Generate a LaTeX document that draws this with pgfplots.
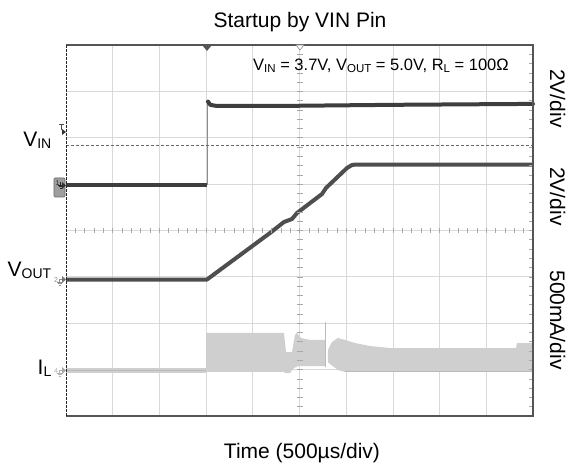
\documentclass[border=0pt]{standalone}
\usepackage{pgfplots}
\pgfplotsset{compat=1.18}
\usepackage{fontspec}
\setmainfont{Liberation Sans}
\definecolor{gridc}{HTML}{D9D9D9}
\definecolor{framec}{HTML}{555555}
\definecolor{vinc}{HTML}{3E3E3E}
\definecolor{voutc}{HTML}{4E4E4E}
\definecolor{ilc}{HTML}{CFCFCF}
\definecolor{ilbase}{HTML}{BABABA}
\definecolor{tickc}{HTML}{A8A8A8}
\newcommand{\bigsub}[2]{#1\raisebox{-1.5bp}{\fontsize{14bp}{14bp}\selectfont #2}}
\newcommand{\smsub}[2]{#1\raisebox{-1.5bp}{\fontsize{11.5bp}{12bp}\selectfont #2}}
\newcommand{\gnd}[3]{% x, y (top of symbol), color
  \draw[#3, line width=0.5bp] (#1bp,#2bp) -- ++(0,-3bp);
  \draw[#3, line width=0.5bp] (#1bp-3bp,#2bp-3bp) -- ++(6bp,0);
  \draw[#3, line width=0.5bp] (#1bp-2bp,#2bp-4.5bp) -- ++(4bp,0);
  \draw[#3, line width=0.5bp] (#1bp-1bp,#2bp-6bp) -- ++(2bp,0);}
\begin{document}
\begin{tikzpicture}
\path[use as bounding box] (0,0) rectangle (570bp,465bp);
\begin{axis}[
  at={(66bp,49bp)}, anchor=south west,
  scale only axis, width=467bp, height=371bp,
  xmin=0, xmax=10, ymin=0, ymax=8,
  xtick={1,2,3,4,5,6,7,8,9}, ytick={1,2,3,4,5,6,7},
  xticklabels={}, yticklabels={},
  major tick length=0pt,
  grid=major, grid style={gridc, line width=0.8bp},
  axis line style={draw=none},
  clip=false,
]
% I_L baseline before start
\addplot[ilc, line width=5bp] coordinates {(0,0.982) (3.0,0.982)};
\addplot[ilbase, line width=1.8bp] coordinates {(0,0.982) (3.0,0.982)};
% I_L band part A
\addplot[fill=ilc, draw=none] coordinates {
 (3.0,1.790) (4.668,1.790) (4.711,1.380) (4.839,1.380) (4.904,1.747) (4.946,1.790)
 (5.032,1.682) (5.225,1.639) (5.546,1.639)
 (5.546,1.078) (4.968,1.078) (4.882,1.035) (4.797,0.927) (4.690,0.927) (4.668,0.949) (3.0,0.949)} -- cycle;
% spike
\addplot[ilbase, line width=0.9bp] coordinates {(5.557,2.027) (5.557,1.057)};
% I_L band part B
\addplot[fill=ilc, draw=none] coordinates {
 (5.610,1.423) (5.696,1.596) (5.824,1.682) (5.974,1.639) (6.188,1.574) (6.510,1.509)
 (6.938,1.466) (9.636,1.466) (9.657,1.574) (10,1.574)
 (10,0.949) (5.974,0.949) (5.824,0.992) (5.653,1.121) (5.610,1.164)} -- cycle;
\addplot[ilbase, line width=1.5bp] coordinates {(5.974,0.955) (10,0.955)};
% V_OUT
\addplot[voutc, line width=4bp, line join=round] coordinates {
 (0,2.943) (3.019,2.943) (4.368,3.946) (4.668,4.183) (4.839,4.248) (4.946,4.377)
 (5.482,4.787) (5.567,4.916) (6.017,5.348) (6.124,5.412) (6.21,5.423) (10,5.423)};
% V_IN
\addplot[vinc, line width=4bp] coordinates {(0,4.975) (3.015,4.975)};
\addplot[black!45, line width=0.8bp] coordinates {(3.02,4.975) (3.02,6.82)};
\addplot[vinc, line width=4bp, line join=round, line cap=round] coordinates {
 (3.04,6.78) (3.09,6.71) (3.2,6.69) (5,6.69) (7,6.71) (10,6.73)};
% dashed reference (trigger level)
\addplot[black!60, line width=0.7bp, dash pattern=on 3bp off 2bp] coordinates {(0,5.844) (10,5.844)};
\end{axis}
% centre-line minor ticks
\foreach \k in {1,...,49} {
  \draw[tickc, line width=0.6bp] (66bp+\k*9.34bp,232bp) -- ++(0,5bp);
}
\foreach \k in {1,...,39} {
  \draw[tickc, line width=0.6bp] (296.5bp,49bp+\k*9.275bp) -- ++(6bp,0);
  \draw[tickc, line width=0.6bp] (533bp,49bp+\k*9.275bp) -- ++(-4bp,0);
}
% frame
\draw[framec, line width=1.2bp] (66bp,420bp) -- (533bp,420bp) -- (533bp,49bp) -- (66bp,49bp);
\draw[black!85, line width=1bp, dash pattern=on 2.5bp off 1.5bp] (66bp,49bp) -- (66bp,420bp);
% top markers
\fill[framec] (202bp,420bp) -- (212bp,420bp) -- (207bp,414bp) -- cycle;
\draw[black!45, fill=white, line width=0.6bp] (296bp,420bp) -- (304bp,420bp) -- (300bp,415bp) -- cycle;
% trigger marker
\draw[black!70, line width=0.6bp] (59bp,341bp) -- (64bp,341bp) (61.5bp,341bp) -- (61.5bp,335bp);
\fill[black!80] (62bp,336bp) -- (66bp,333bp) -- (62bp,330bp) -- cycle;
% channel 1 marker
\draw[black!60, fill=black!38, rounded corners=1bp, line width=0.6bp] (54bp,268bp) rectangle (65bp,287bp);
\node[font=\fontsize{7bp}{7bp}\selectfont, inner sep=0, text=black!85] at (57.5bp,282bp) {1};
\gnd{60.5}{283}{black!85}
\fill[black!80] (62bp,283bp) -- (66bp,279.5bp) -- (62bp,276bp) -- cycle;
% channel 2 marker
\node[font=\fontsize{7bp}{7bp}\selectfont, inner sep=0, text=black!45] at (56bp,185bp) {2};
\gnd{59.5}{186}{black!45}
\draw[black!45, line width=0.5bp] (59.5bp,186bp) -- (62bp,186bp);
\fill[black!55] (62bp,189bp) -- (66bp,185.5bp) -- (62bp,182bp) -- cycle;
% channel 4 marker
\node[font=\fontsize{7bp}{7bp}\selectfont, inner sep=0, text=black!30] at (56bp,94bp) {4};
\gnd{59.5}{95}{black!30}
\draw[black!30, line width=0.5bp] (59.5bp,95bp) -- (62bp,95bp);
\fill[black!35] (62bp,98bp) -- (66bp,94.5bp) -- (62bp,91bp) -- cycle;
% texts
\node[anchor=base, inner sep=0, font=\fontsize{21bp}{25bp}\selectfont] at (300bp,437bp) {Startup by VIN Pin};
\node[anchor=base, inner sep=0, font=\fontsize{21bp}{25bp}\selectfont] at (302bp,7bp) {Time (500µs/div)};
\node[anchor=base west, inner sep=0, font=\fontsize{16.5bp}{20bp}\selectfont] at (253bp,394bp)
  {\smsub{V}{IN} = 3.7V, \smsub{V}{OUT} = 5.0V, \smsub{R}{L} = 100Ω};
\node[anchor=base east, inner sep=0, font=\fontsize{21bp}{25bp}\selectfont] at (51.5bp,318bp) {\bigsub{V}{IN}};
\node[anchor=base east, inner sep=0, font=\fontsize{21bp}{25bp}\selectfont] at (51.5bp,188bp) {\bigsub{V}{OUT}};
\node[anchor=base east, inner sep=0, font=\fontsize{21bp}{25bp}\selectfont] at (51.5bp,90bp) {\bigsub{I}{L}};
\node[rotate=-90, anchor=base, inner sep=0, font=\fontsize{21bp}{25bp}\selectfont] at (550bp,366.5bp) {2V/div};
\node[rotate=-90, anchor=base, inner sep=0, font=\fontsize{21bp}{25bp}\selectfont] at (550bp,268.5bp) {2V/div};
\node[rotate=-90, anchor=base, inner sep=0, font=\fontsize{21bp}{25bp}\selectfont] at (550bp,145bp) {500mA/div};
\end{tikzpicture}
\end{document}
